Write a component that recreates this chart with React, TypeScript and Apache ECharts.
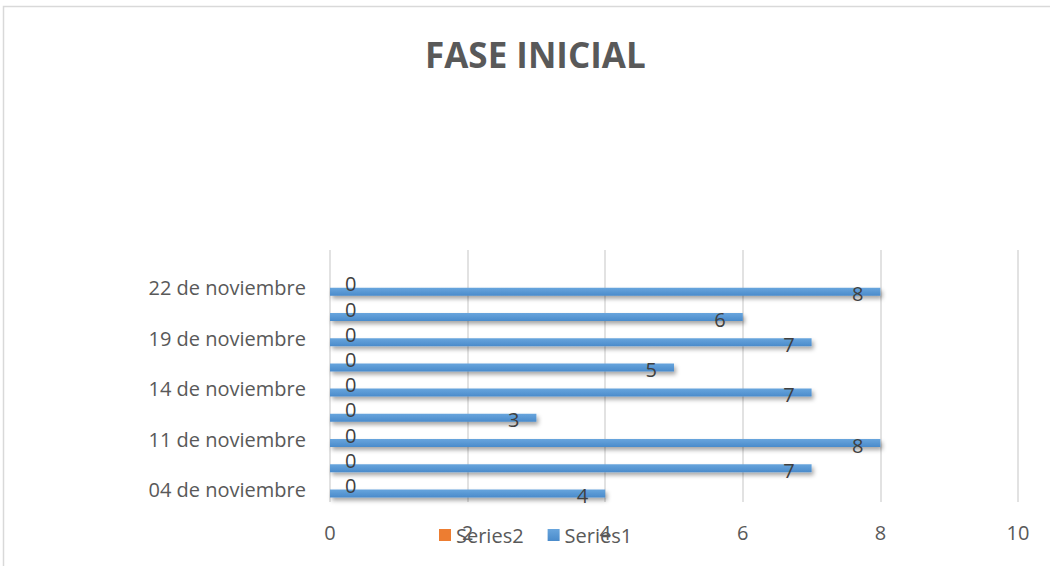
import React, { useEffect, useRef } from "react";
import * as echarts from "echarts";

const titleText = "FASE INICIAL";
const categories = [
  "04 de noviembre",
  "07 de noviembre",
  "11 de noviembre",
  "12 de noviembre",
  "14 de noviembre",
  "15 de noviembre",
  "19 de noviembre",
  "20 de noviembre",
  "22 de noviembre",
  "",
];
const series1Values: (number | null)[] = [4, 7, 8, 3, 7, 5, 7, 6, 8, null];
const series2Values: (number | null)[] = [0, 0, 0, 0, 0, 0, 0, 0, 0, null];
const xTicks = { min: 0, max: 10, interval: 2 };

const FONT = "'Open Sans', 'Noto Sans', sans-serif";

export default function App() {
  const ref = useRef<HTMLDivElement>(null);
  useEffect(() => {
    if (!ref.current) return;
    const chart = echarts.init(ref.current, null, { renderer: "svg" });
    chart.setOption({
      animation: false,
      backgroundColor: "#ffffff",
      textStyle: { fontFamily: FONT },
      graphic: [
        {
          type: "rect",
          shape: { x: 3.5, y: 6.5, width: 1200, height: 700 },
          style: { fill: "none", stroke: "#d9d9d9", lineWidth: 1.5 },
          silent: true,
        },
      ],
      title: {
        text: titleText,
        left: 420,
        top: 32,
        textStyle: { fontFamily: FONT, fontSize: 35, fontWeight: "bold", color: "#595959" },
      },
      legend: {
        data: ["Series2", "Series1"],
        left: 434,
        top: 520,
        itemWidth: 12,
        itemHeight: 12,
        itemGap: 24,
        icon: "rect",
        textStyle: { fontFamily: FONT, fontSize: 20, color: "#595959" },
      },
      grid: { left: 330, right: 32, top: 250, bottom: 64, containLabel: false },
      xAxis: {
        type: "value",
        min: xTicks.min,
        max: xTicks.max,
        interval: xTicks.interval,
        axisLine: { show: false },
        axisTick: { show: false },
        axisLabel: { fontFamily: FONT, fontSize: 20, color: "#595959", margin: 20 },
        splitLine: { show: true, lineStyle: { color: "#d9d9d9", width: 1.5 } },
      },
      yAxis: {
        type: "category",
        data: categories,
        axisLine: { show: false },
        axisTick: { show: false },
        axisLabel: { interval: 1, fontFamily: FONT, fontSize: 20, color: "#595959", margin: 24 },
        splitLine: { show: false },
      },
      series: [
        {
          name: "Series2",
          type: "bar",
          data: series2Values,
          barWidth: 8,
          barGap: "0%",
          itemStyle: { color: "#ed7d31" },
          label: {
            show: true,
            position: "right",
            distance: 15,
            fontFamily: FONT,
            fontSize: 20,
            color: "#404040",
          },
        },
        {
          name: "Series1",
          type: "bar",
          data: series1Values,
          barWidth: 8,
          barGap: "0%",
          itemStyle: {
            color: new echarts.graphic.LinearGradient(0, 0, 0, 1, [
              { offset: 0, color: "#68a5dd" },
              { offset: 1, color: "#4a8bcb" },
            ]),
            shadowColor: "rgba(0,0,0,0.35)",
            shadowBlur: 4,
            shadowOffsetX: 2,
            shadowOffsetY: 3,
          },
          label: {
            show: true,
            position: "insideRight",
            distance: 17,
            offset: [0, 2],
            fontFamily: FONT,
            fontSize: 20,
            color: "#404040",
          },
        },
      ],
    });
    return () => chart.dispose();
  }, []);
  return (
    <div
      ref={ref}
      style={{ position: "absolute", left: 0, top: 0, width: 1050, height: 566 }}
    />
  );
}
